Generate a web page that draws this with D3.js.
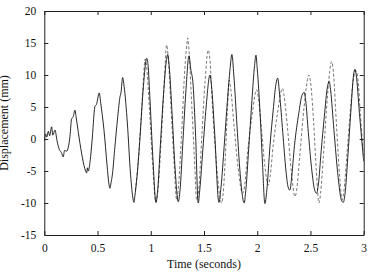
<!DOCTYPE html>
<html>
<head>
<meta charset="utf-8">
<script src="https://cdn.jsdelivr.net/npm/d3@7"></script>
<style>
  body { margin: 0; background: #fff; }
  svg text { font-family: "Liberation Serif", "DejaVu Serif", serif; fill: #111; }
</style>
</head>
<body>
<div id="chart"></div>
<script>
// measured displacement (solid), [seconds, mm]
const measured = [
  [0, -0.3], [0.012, 0.8], [0.023, 0.3], [0.038, 1.2], [0.05, 0.5], [0.069, 1.9], [0.08, 0.6],
  [0.1, 1.4], [0.12, -0.3], [0.14, -1.6], [0.16, -2.1], [0.178, -2.8], [0.19, -1.8], [0.21, -1.9],
  [0.241, 0.4], [0.257, 3.2], [0.27, 3.4], [0.288, 4.5], [0.3, 3.3], [0.32, 1.0], [0.35, -2.2],
  [0.38, -4.6], [0.398, -5.3], [0.405, -4.5], [0.413, -5.0], [0.43, -3.5], [0.45, 0], [0.476, 5.1],
  [0.49, 5.4], [0.516, 7.2], [0.53, 5.6], [0.56, 1.5], [0.59, -4.2], [0.605, -6.8], [0.617, -7.7],
  [0.625, -7.0], [0.64, -5.5], [0.66, -1.8], [0.69, 3.5], [0.711, 6.6], [0.72, 7.2], [0.736, 9.6],
  [0.75, 8.2], [0.78, 2.5], [0.81, -5.5], [0.835, -9.5], [0.842, -9.9], [0.85, -9.0], [0.87, -6.0],
  [0.9, 0.5], [0.93, 8.0], [0.962, 12.6], [0.975, 11.5], [0.99, 7.0], [1.02, -3.0], [1.049, -9.9],
  [1.065, -8.0], [1.09, -1.0], [1.12, 7.0], [1.145, 12.0], [1.159, 13.2], [1.175, 11.0], [1.2, 4.0],
  [1.23, -5.0], [1.258, -9.8], [1.275, -8.0], [1.3, -1.0], [1.33, 7.5], [1.359, 13.0], [1.375, 11.0],
  [1.398, 8.4], [1.42, 1.0], [1.446, -10.0], [1.46, -8.0], [1.49, -1.5], [1.52, 5.0], [1.556, 10.0],
  [1.57, 8.4], [1.6, 1.0], [1.64, -9.9], [1.66, -7.5], [1.69, -1.0], [1.72, 6.0], [1.745, 11.0],
  [1.762, 13.2], [1.78, 10.0], [1.81, 2.0], [1.84, -5.5], [1.878, -10.0], [1.89, -8.5], [1.92, -1.5],
  [1.95, 6.0], [1.975, 11.5], [1.988, 13.1], [2.0, 11.0], [2.03, 3.0], [2.05, -4.0], [2.072, -10.1],
  [2.09, -8.0], [2.12, -1.0], [2.15, 4.5], [2.175, 8.5], [2.192, 9.5], [2.21, 7.0], [2.24, 1.0],
  [2.27, -5.0], [2.29, -7.5], [2.307, -8.0], [2.32, -6.5], [2.35, -1.0], [2.39, 4.0], [2.42, 6.8],
  [2.441, 7.3], [2.455, 6.0], [2.48, 1.0], [2.51, -4.5], [2.54, -8.0], [2.558, -8.5], [2.575, -7.0],
  [2.6, -2.0], [2.63, 3.5], [2.66, 8.2], [2.676, 9.0], [2.69, 7.5], [2.72, 1.5], [2.76, -6.0],
  [2.79, -9.5], [2.808, -9.9], [2.825, -8.5], [2.85, -3.0], [2.88, 4.5], [2.905, 10.0], [2.917, 10.9],
  [2.93, 10.0], [2.96, 4.0], [3.0, -3.5]
]

// model displacement (dashed), [seconds, mm]
const model = [
  [0.855, -8.0], [0.88, -4.0], [0.91, 3.5], [0.93, 9.0], [0.946, 12.5], [0.96, 11.5], [0.99, 4.0],
  [1.02, -4.5], [1.049, -9.9], [1.07, -7.5], [1.1, 0.5], [1.13, 10.0], [1.149, 14.7], [1.165, 12.5],
  [1.19, 5.0], [1.22, -4.0], [1.243, -9.5], [1.26, -7.5], [1.29, 1.0], [1.32, 11.0], [1.34, 15.0],
  [1.346, 15.8], [1.355, 14.8], [1.38, 7.0], [1.41, -3.0], [1.431, -9.5], [1.45, -8.0], [1.48, 0.5],
  [1.51, 9.0], [1.54, 13.9], [1.555, 12.5], [1.58, 5.0], [1.62, -4.5], [1.666, -10.0], [1.68, -8.5],
  [1.7, -3.0], [1.72, 4.5], [1.737, 9.2], [1.75, 8.0], [1.78, 2.5], [1.82, -4.5], [1.863, -8.5],
  [1.88, -7.5], [1.91, -2.0], [1.95, 3.5], [1.994, 7.7], [2.01, 6.5], [2.04, 1.5], [2.07, -4.0],
  [2.103, -7.2], [2.12, -6.0], [2.15, -1.0], [2.19, 4.0], [2.238, 7.9], [2.25, 7.0], [2.28, 2.5],
  [2.32, -5.0], [2.354, -9.0], [2.37, -8.0], [2.4, -2.5], [2.44, 5.0], [2.486, 10.0], [2.5, 9.0],
  [2.53, 2.5], [2.555, -5.0], [2.58, -10.0], [2.595, -8.5], [2.62, -3.0], [2.65, 4.5], [2.68, 10.5],
  [2.699, 12.1], [2.715, 10.5], [2.745, 2.0], [2.775, -6.0], [2.798, -9.5], [2.815, -8.0], [2.84, -3.0],
  [2.87, 3.5], [2.9, 9.0], [2.927, 10.7], [2.945, 9.5], [2.97, 3.5], [3.0, -3.0]
]

const xTicks = [0, 0.5, 1, 1.5, 2, 2.5, 3]
const yTicks = [-15, -10, -5, 0, 5, 10, 15, 20]

const width = 368
const height = 280

const x = d3.scaleLinear().domain([0, 3]).range([44.3, 363.7])
const y = d3.scaleLinear().domain([-15, 20]).range([235, 11])

const svg = d3.select('#chart').append('svg')
  .attr('width', width)
  .attr('height', height)

svg.append('defs').append('clipPath')
  .attr('id', 'plot')
  .append('rect')
  .attr('x', x(0))
  .attr('y', y(20))
  .attr('width', x(3) - x(0))
  .attr('height', y(-15) - y(20))

const fmt = d => String(d)

// axes, ticks pointing inward on all four sides
const styleAxis = g => {
  g.select('.domain').attr('stroke', '#222')
  g.selectAll('.tick line').attr('stroke', '#222')
  g.selectAll('text').attr('font-size', 11.5).attr('font-family', null)
}

svg.append('g')
  .attr('transform', `translate(0,${y(-15)})`)
  .call(d3.axisBottom(x).tickValues(xTicks).tickFormat(fmt).tickSizeInner(-4).tickSizeOuter(0).tickPadding(9))
  .call(styleAxis)

svg.append('g')
  .attr('transform', `translate(0,${y(20)})`)
  .call(d3.axisTop(x).tickValues(xTicks).tickFormat('').tickSizeInner(-4).tickSizeOuter(0))
  .call(styleAxis)

svg.append('g')
  .attr('transform', `translate(${x(0)},0)`)
  .call(d3.axisLeft(y).tickValues(yTicks).tickFormat(fmt).tickSizeInner(-4).tickSizeOuter(0).tickPadding(8))
  .call(styleAxis)

svg.append('g')
  .attr('transform', `translate(${x(3)},0)`)
  .call(d3.axisRight(y).tickValues(yTicks).tickFormat('').tickSizeInner(-4).tickSizeOuter(0))
  .call(styleAxis)

const line = d3.line()
  .x(d => x(d[0]))
  .y(d => y(d[1]))
  .curve(d3.curveMonotoneX)

const plot = svg.append('g').attr('clip-path', 'url(#plot)')

plot.append('path')
  .datum(model)
  .attr('fill', 'none')
  .attr('stroke', '#555')
  .attr('stroke-width', 0.8)
  .attr('stroke-dasharray', '3,2')
  .attr('d', line)

plot.append('path')
  .datum(measured)
  .attr('fill', 'none')
  .attr('stroke', '#111')
  .attr('stroke-width', 0.9)
  .attr('d', line)

// axis titles
svg.append('text')
  .attr('x', (x(0) + x(3)) / 2)
  .attr('y', 268)
  .attr('text-anchor', 'middle')
  .attr('font-size', 12)
  .text('Time (seconds)')

svg.append('text')
  .attr('transform', `translate(8,${(y(20) + y(-15)) / 2}) rotate(-90)`)
  .attr('text-anchor', 'middle')
  .attr('font-size', 12)
  .text('Displacement (mm)')
</script>
</body>
</html>
